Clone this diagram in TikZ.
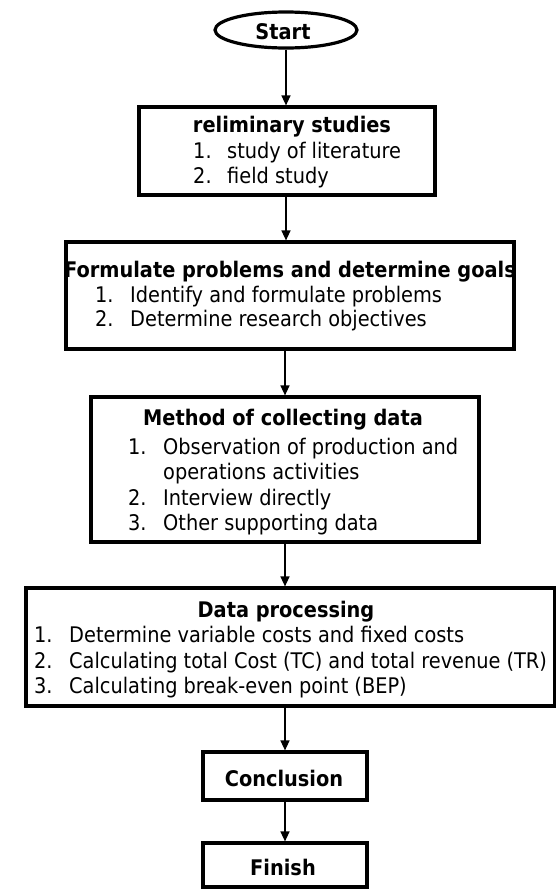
\documentclass[tikz,border=0pt]{standalone}
\usepackage{fontspec}
\setmainfont{DejaVu Sans Condensed}
\usetikzlibrary{arrows.meta,shapes.geometric}
\begin{document}
\begin{tikzpicture}[x=1pt,y=-1pt,
  box/.style={draw, line width=3.2pt, inner sep=0pt},
  ttl/.style={anchor=base, font=\fontsize{21.5}{25}\selectfont\bfseries, inner sep=0pt},
  itm/.style={anchor=base west, font=\fontsize{21.5}{25}\selectfont, inner sep=0pt},
  arr/.style={line width=1.4pt, -{Triangle[length=10pt,width=9pt]}}]
\useasboundingbox (0,0) rectangle (556,889);
% Start
\node[box, ellipse, minimum width=142pt, minimum height=36pt] (start) at (286,30) {};
\node[ttl] (startt) at (283,39) {Start};
% Box 1
\node[box, minimum width=296pt, minimum height=88pt] (b1) at (287,151) {};
\node[ttl] (b1t) at (292,132) {reliminary studies};
\node[itm] (b1n1) at (193,158) {1.};
\node[itm] (b1i1) at (227,158) {study of literature};
\node[itm] (b1n2) at (193,183) {2.};
\node[itm] (b1i2) at (227,183) {field study};
% Box 2
\node[box, minimum width=448pt, minimum height=107pt] (b2) at (290,295.5) {};
\node[ttl] (b2t) at (290,277) {Formulate problems and determine goals};
\node[itm] (b2n1) at (95,302) {1.};
\node[itm] (b2i1) at (130,302) {Identify and formulate problems};
\node[itm] (b2n2) at (95,326) {2.};
\node[itm] (b2i2) at (130,326) {Determine research objectives};
% Box 3
\node[box, minimum width=388pt, minimum height=145pt] (b3) at (285,469.5) {};
\node[ttl] (b3t) at (283,425) {Method of collecting data};
\node[itm] (b3n1) at (128,454) {1.};
\node[itm] (b3i1) at (163,454) {Observation of production and};
\node[itm] (b3i1b) at (163,479) {operations activities};
\node[itm] (b3n2) at (128,505) {2.};
\node[itm] (b3i2) at (163,505) {Interview directly};
\node[itm] (b3n3) at (128,530) {3.};
\node[itm] (b3i3) at (163,530) {Other supporting data};
% Box 4
\node[box, minimum width=529pt, minimum height=118pt] (b4) at (290.5,647) {};
\node[ttl] (b4t) at (286,617) {Data processing};
\node[itm] (b4n1) at (34,642) {1.};
\node[itm] (b4i1) at (69,642) {Determine variable costs and fixed costs};
\node[itm] (b4n2) at (34,668) {2.};
\node[itm] (b4i2) at (69,668) {Calculating total Cost (TC) and total revenue (TR)};
\node[itm] (b4n3) at (34,693) {3.};
\node[itm] (b4i3) at (69,693) {Calculating break-even point (BEP)};
% Conclusion, Finish
\node[box, minimum width=164pt, minimum height=48pt] (concl) at (285,776) {};
\node[ttl] (conclt) at (284,786) {Conclusion};
\node[box, minimum width=164pt, minimum height=44pt] (fin) at (285,865) {};
\node[ttl] (fint) at (283,875) {Finish};
% Arrows
\draw[arr] (start.south) -- (b1.north -| start);
\draw[arr] (b1.south -| start) -- (b2.north -| start);
\draw[arr] (b2.south -| concl) -- (b3.north -| concl);
\draw[arr] (b3.south -| concl) -- (b4.north -| concl);
\draw[arr] (b4.south -| concl) -- (concl.north);
\draw[arr] (concl.south) -- (fin.north);
\end{tikzpicture}
\end{document}
